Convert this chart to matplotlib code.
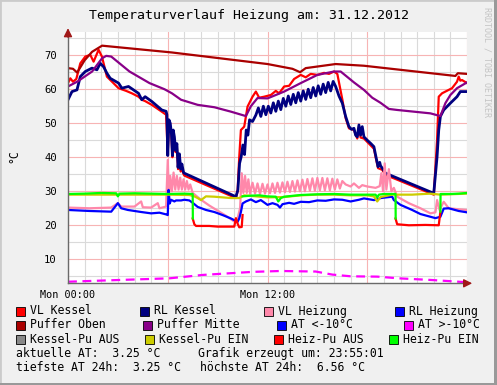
import numpy as np
import matplotlib
matplotlib.use("Agg")
import matplotlib.pyplot as plt
from matplotlib.patches import Rectangle

nan = np.nan
MONO = "DejaVu Sans Mono"

title = "Temperaturverlauf Heizung am: 31.12.2012"
x_tick_pos = [0, 6, 12, 18, 24]
x_tick_labels = ["Mon 00:00", "", "Mon 12:00", "", ""]
y_ticks = [10, 20, 30, 40, 50, 60, 70]

# ---- series (hours, values) ----
vl_kessel_h = [0, 0.14, 0.3, 0.5, 0.74, 1.04, 1.34, 1.54, 1.84, 2.04, 2.34, 3.04, 3.5, 3.84, 4.24, 4.44, 4.64, 5.04,
               5.64, 5.9, 6.0, 6.07, 6.15, 6.22, 6.28, 6.33, 6.4, 6.47, 6.55, 6.62, 6.7, 6.78, 6.85, 6.95, 7.0,
               10.1, 10.2, 10.3, 10.4, 10.6, 10.8, 11.1, 11.3, 11.5, 11.8, 12.2, 12.5, 12.7, 13.0, 13.3, 13.6, 14.0,
               14.3, 14.6, 15.0, 15.4, 15.7, 16.0, 16.2, 16.5, 16.7, 16.9, 17.2, 17.4, 17.5, 17.6, 17.8, 18.2, 18.4,
               18.55, 18.65, 18.9, 19.1, 22.0, 22.2, 22.3, 22.5, 22.7, 22.9, 23.1, 23.4, 23.5, 23.6, 23.7, 24]
vl_kessel_v = [61.8, 63.2, 62.2, 63, 67.6, 69.6, 70.1, 68.1, 71.6, 69.6, 63.7, 60.3, 59.5, 58.8, 57.8, 56.9, 56.5, 55.4,
               53.4, 52.5, 41, 50, 49, 46.5, 40, 47, 45, 41.5, 43, 36.5, 40, 35.8, 37, 35, 34.6,
               28.0, 30, 40, 48, 49, 54.9, 57.8, 59.3, 57.5, 57.8, 58.3, 59.5, 58.8, 60.8, 61, 63, 64.2,
               63.5, 64.5, 64.2, 64.8, 64.5, 65.2, 64.5, 57, 51.5, 48.5, 48, 45.5, 49, 45.8, 45.5, 43.5, 42.5,
               39, 36.8, 36.3, 34.8, 29.0, 45, 57.8, 58.8, 59.3, 59.8, 60.3, 62.2, 63.7, 62.5, 62.7, 61.8]

rl_kessel_h = [0, 0.24, 0.54, 0.74, 1.04, 1.44, 1.74, 1.94, 2.14, 2.34, 2.54, 3.04, 3.24, 3.64, 4.24, 4.44, 4.64, 5.04,
               5.64, 5.9, 5.95, 6.0, 6.07, 6.15, 6.22, 6.28, 6.33, 6.4, 6.47, 6.55, 6.62, 6.7, 6.78, 6.85, 6.95, 7.0,
               10.1, 10.22, 10.32, 10.42, 10.52, 10.62, 10.72, 10.82, 10.92, 11.1,
               11.3, 11.45, 11.6, 11.75, 11.9, 12.05, 12.2, 12.35, 12.5, 12.65, 12.8, 12.95, 13.1, 13.25, 13.4, 13.55,
               13.7, 13.85, 14.0, 14.15, 14.3, 14.45, 14.6, 14.75, 14.9, 15.05, 15.2, 15.35, 15.5, 15.65, 15.8, 15.95,
               16.1, 16.3, 16.5, 16.7, 16.9, 17.05, 17.2, 17.3, 17.4, 17.5, 17.6, 17.7, 17.8, 18.0, 18.2, 18.4, 18.55,
               18.65, 18.75, 18.8, 18.9, 19.1, 22.0, 22.2, 22.3, 22.4, 22.6, 23.0, 23.4, 23.6, 24]
rl_kessel_v = [56.9, 59.3, 59.8, 63.7, 65.2, 66.2, 65.7, 67.6, 66.6, 64.7, 63.2, 61.8, 60.3, 60.8, 58.8, 56.9, 57.8, 56.4,
               53.9, 53.5, 52.5, 40.5, 51, 50, 47, 40.5, 48, 46, 42, 44, 37, 41, 36.5, 38, 35.5, 35.3,
               28.4, 30.4, 38.2, 40.2, 43.6, 40.8, 48, 46.5, 51, 50.5,
               52.4, 54.5, 52.0, 55.0, 52.5, 55, 53, 56, 53.5, 56.5, 54, 57.3, 55, 58, 55.5, 58.5,
               56, 59, 56.5, 59.5, 57, 60, 57.5, 60.5, 58, 61, 58.5, 61.5, 59, 62, 59.5, 62.3,
               60.8, 58, 55.9, 52, 49, 48.2, 48.5, 46.5, 46, 49.5, 46.5, 49, 46, 45, 44.1, 43.1, 39.5,
               37.2, 38.5, 37.5, 36.8, 35.3, 29.4, 40.2, 48, 52, 53.9, 55.9, 57.8, 59.3, 59.3]

vl_heizung_h = [0, 1.3, 2.6, 3.0, 3.2, 4.0, 4.4, 4.5, 5.0, 5.4, 5.5, 5.9, 6.0, 6.07, 6.15, 6.25, 6.35, 6.45, 6.55,
                6.65, 6.75, 6.85, 6.95, 7.05, 7.15, 7.25, 7.35, 7.5, 8.0, 8.5, 9.0, 9.5, 10.0, 10.2, 10.35, 10.45,
                10.55, 10.65, 10.75, 10.85, 10.95, 11.1, 11.25, 11.4, 11.55, 11.7, 11.85, 12.0, 12.15, 12.3, 12.45,
                12.6, 12.75, 12.9, 13.05, 13.2, 13.35, 13.5, 13.65, 13.8, 13.95, 14.1, 14.25, 14.4, 14.55, 14.7,
                14.85, 15.0, 15.15, 15.3, 15.45, 15.6, 15.75, 15.9, 16.05, 16.2, 16.35, 16.5, 16.7, 17.0, 17.2,
                17.5, 17.7, 18.0, 18.5, 18.75, 18.85, 18.95, 19.05, 19.15, 19.3, 19.45, 19.6, 19.8, 20.5, 21.2,
                21.8, 22.1, 22.2, 22.35, 22.6, 22.9, 23.5, 24]
vl_heizung_v = [25.2, 25, 25.2, 26.5, 25.5, 25.5, 27, 25.3, 25.2, 26.5, 25, 25.5, 39.2, 28.4, 34.5, 30, 35.5, 30.5, 34.5,
                30.5, 34, 30.5, 33.5, 30.5, 33, 30.5, 32, 29.5, 27.5, 25.8, 24.3, 22.8, 21.1, 22, 25, 35.3,
                29.5, 34.5, 29.5, 33.5, 29.3, 32.5, 29.3, 32.3, 29.2, 32.2, 29.3, 32, 29.4, 32.3, 29.5,
                32.5, 29.6, 32.6, 29.7, 32.8, 29.8, 33, 29.9, 33.2, 30, 33.4, 30, 33.6, 30.2, 33.8,
                30.2, 33.9, 30.3, 33.9, 30.3, 33.8, 30.3, 33.7, 30.5, 33.5, 30.8, 33, 32, 31.4, 32.3,
                31, 31.8, 31.4, 31.0, 31.5, 35.3, 30, 38.2, 30.5, 36.5, 30, 31, 28.4, 26.5, 25,
                23.5, 23.8, 27.4, 24.5, 26.9, 25, 24.7, 24.5]

rl_heizung_h = [0, 1.3, 2.6, 3.0, 3.2, 3.6, 4.4, 5.0, 5.5, 5.9, 6.0, 6.05, 6.12, 6.2, 6.4, 6.5, 6.8, 7.0, 7.3, 7.5, 7.8,
                8.3, 8.8, 9.3, 9.8, 10.0, 10.2, 10.3, 10.4, 10.5, 10.7, 11.0, 11.3, 11.6, 12.0, 12.3, 12.6, 12.75,
                12.9, 13.3, 13.6, 14.0, 14.5, 15.0, 15.5, 16.0, 16.5, 17.0, 17.5, 17.8, 18.4, 18.6, 18.8, 19.5,
                19.6, 20.0, 20.7, 21.2, 21.8, 22.1, 22.4, 22.6, 22.9, 23.5, 24]
rl_heizung_v = [24.5, 24.2, 24.0, 26.5, 25.0, 24.5, 23.9, 23.5, 23.7, 23.2, 23.0, 30.4, 26.4, 27.5, 27, 27.3, 27.3, 27.5,
                27.3, 26.6, 25.4, 24.5, 23.9, 23.0, 22.0, 21.5, 21, 22, 23.9, 26.4, 27, 27.6, 26.8, 27.4, 26.0, 26.5,
                26.0, 25.2, 26.2, 26.6, 26.3, 26.9, 26.8, 27.3, 27.2, 27.6, 27.5, 27.0, 27.5, 27.9, 27.4, 27.6, 28.0,
                28.4, 27.4, 26.0, 24.5, 23.3, 22.5, 22.1, 22.5, 24.9, 25.0, 24.2, 23.8]

puffer_oben_h = [0, 0.3, 0.55, 1.0, 1.45, 2.05, 6.25, 12.0, 13.5, 13.96, 14.3, 16.1, 17.8, 23.3, 23.45, 24]
puffer_oben_v = [66.2, 66, 64.9, 68.5, 71, 72.8, 70.8, 67.4, 66.0, 65.0, 66.2, 67.4, 66.9, 63.9, 64.7, 64.5]

puffer_mitte_h = [0, 0.55, 1.45, 2.05, 2.3, 2.6, 3.7, 4.9, 5.8, 6.25, 6.8, 7.8, 8.8, 9.8, 10.7, 11.0, 11.4, 12.0,
                  13.0, 14.0, 15.0, 16.0, 16.4, 17.2, 17.8, 18.3, 18.8, 19.3, 19.8, 21.8, 22.4, 22.7, 23.0, 23.4, 24]
puffer_mitte_v = [60.8, 62.2, 65.2, 69.1, 69.8, 69.6, 65.2, 61.8, 60.0, 58.8, 56.9, 55.4, 54.7, 53.4, 52.1, 55, 57.4, 57.3,
                  59.3, 61.8, 64.2, 65.2, 65.2, 62, 59.8, 57.5, 56.0, 54.2, 53.9, 52.9, 52.1, 55.9, 58.3, 60.3, 62.0]

at_over_h = [0, 3, 6.1, 8.1, 11.1, 12.8, 13.5, 14.9, 15.9, 17.0, 18.6, 19.9, 21.9, 24]
at_over_v = [3.4, 3.9, 4.4, 5.4, 6.3, 6.56, 6.5, 6.4, 5.5, 5.0, 4.9, 4.4, 3.9, 3.25]

kpu_ein_h = [0, 6, 7.3, 7.6, 7.8, 8.0, 8.3, 8.8, 9.8, 10.3, 10.6, 12, 13, 14, 15, 16, 17, 18, 18.4, 18.6, 18.8, 19.5,
             20.7, 21.8, 22.4, 24]
kpu_ein_v = [29.0, 29.0, 28.9, 28.5, 28.0, 27.4, 28.5, 28.4, 28.0, 28.0, 28.8, 28.2, 28.3, 28.8, 29.0, 29.0, 28.8,
             28.8, 28.5, 27.0, 28.3, 29.0, 29.0, 29.3, 29.0, 29.3]

hpu_aus_h = [7.5, 7.6, 7.7, 8.5, 9.0, 10.0, 10.1, 10.2, 10.3, 10.45, 10.5, nan, 19.7, 19.8, 20.5, 21.5, 22.3, 22.4]
hpu_aus_v = [22.0, 20.3, 19.8, 19.8, 19.6, 19.6, 22.1, 20.5, 19.4, 19.5, 23.0, nan, 22.0, 20.3, 20.0, 20.1, 20.0, 24.0]

hpu_ein_h = [0, 1.0, 2.0, 2.9, 3.0, 3.1, 4, 5, 6, 7.0, 7.5, 7.51, nan, 10.5, 11.0, 11.5, 12.0, 12.5, 12.65, 12.8,
             13.0, 14.0, 15.0, 16.0, 17.0, 18.0, 18.5, 18.6, 18.7, 19.0, 19.7, 19.71, nan, 22.4, 22.41, 23, 23.5, 24]
hpu_ein_v = [29.2, 29.3, 29.5, 29.4, 28.5, 29.3, 29.4, 29.3, 29.2, 29.3, 29.2, 22.0, nan, 28.5, 28.7, 28.8, 28.5, 28.4,
             27.0, 28.0, 28.4, 28.9, 29.1, 29.2, 29.0, 29.0, 29.0, 28.2, 29.0, 29.2, 29.2, 22.0, nan, 24.0, 29.2, 29.2,
             29.3, 29.5]

legend_names = ["VL Kessel", "RL Kessel", "VL Heizung", "RL Heizung",
                "Puffer Oben", "Puffer Mitte", "AT <-10°C", "AT >-10°C",
                "Kessel-Pu AUS", "Kessel-Pu EIN", "Heiz-Pu AUS", "Heiz-Pu EIN"]
legend_colors = ["#FF0000", "#000080", "#FF88AA", "#0000FF",
                 "#AA0000", "#880088", "#0000FF", "#FF00FF",
                 "#888888", "#CCCC00", "#FF0000", "#00FF00"]
info_lines = [("aktuelle AT:  3.25 °C", "Grafik erzeugt um: 23:55:01"),
              ("tiefste AT 24h:  3.25 °C", "höchste AT 24h:  6.56 °C")]

# ---- figure ----
W, H = 497, 385
fig = plt.figure(figsize=(W / 100, H / 100), dpi=100)
fig.patch.set_facecolor("#F0F0F0")


def fx(px):
    return px / W


def fy(py):
    return 1 - py / H


# frame
fig.add_artist(Rectangle((0, 0), 1, 1, transform=fig.transFigure, fill=False,
                         edgecolor="#CBCBCB", linewidth=2))
fig.add_artist(Rectangle((fx(0), fy(385)), fx(497), 2 / H, transform=fig.transFigure,
                         facecolor="#999999", edgecolor="none"))
fig.add_artist(Rectangle((fx(494), fy(385)), 3 / W, 1, transform=fig.transFigure,
                         facecolor="#999999", edgecolor="none"))

ax = fig.add_axes([fx(68), fy(283.3), fx(467) - fx(68), fy(32.4) - fy(283.3)])
ax.set_facecolor("white")
ax.set_xlim(0, 24)
ax.set_ylim(2.94, 76.7)

ax.set_xticks(x_tick_pos)
ax.set_xticklabels(x_tick_labels, fontfamily=MONO, fontsize=7.3)
ax.set_xticks(np.arange(0, 25, 1), minor=True)
ax.set_yticks(y_ticks)
ax.set_yticklabels([str(v) for v in y_ticks], fontfamily=MONO, fontsize=7.6)
ax.set_yticks(np.arange(5, 80, 5), minor=True)
ax.tick_params(which="both", length=0)
ax.tick_params(axis="y", pad=8)
ax.tick_params(axis="x", pad=5)
ax.grid(which="minor", color="#DADADA", linewidth=0.8)
ax.grid(which="major", color="#F7B4B4", linewidth=0.8)
ax.set_axisbelow(True)
for s in ["top", "right"]:
    ax.spines[s].set_visible(False)
for s in ["left", "bottom"]:
    ax.spines[s].set_color("#6A6A6A")
    ax.spines[s].set_linewidth(1.0)

lw = 1.6
ax.plot(vl_kessel_h, vl_kessel_v, color=legend_colors[0], lw=lw)
ax.plot(rl_kessel_h, rl_kessel_v, color=legend_colors[1], lw=2.0)
ax.plot(vl_heizung_h, vl_heizung_v, color=legend_colors[2], lw=lw)
ax.plot(rl_heizung_h, rl_heizung_v, color=legend_colors[3], lw=lw)
ax.plot(puffer_oben_h, puffer_oben_v, color=legend_colors[4], lw=lw)
ax.plot(puffer_mitte_h, puffer_mitte_v, color=legend_colors[5], lw=lw)
ax.plot(at_over_h, at_over_v, color=legend_colors[7], lw=lw, dashes=(4, 2.5))
ax.plot(kpu_ein_h, kpu_ein_v, color=legend_colors[9], lw=lw)
ax.plot(hpu_aus_h, hpu_aus_v, color=legend_colors[10], lw=lw)
ax.plot(hpu_ein_h, hpu_ein_v, color=legend_colors[11], lw=lw)

# axis arrows
ax.annotate("", xy=(0, 1.028), xytext=(0, 0.97), xycoords="axes fraction",
            arrowprops=dict(arrowstyle="-|>,head_width=0.25,head_length=0.5", color="#A01818", lw=1),
            annotation_clip=False)
ax.annotate("", xy=(1.02, 0), xytext=(0.99, 0), xycoords="axes fraction",
            arrowprops=dict(arrowstyle="-|>,head_width=0.25,head_length=0.5", color="#A01818", lw=1),
            annotation_clip=False)

# texts
fig.text(fx(248.7), fy(15.5), title, fontfamily=MONO, fontsize=9.5, ha="center", va="center")
fig.text(fx(13.5), fy(156), "°C", fontfamily=MONO, fontsize=8.3, rotation=90, ha="center", va="center")
fig.text(fx(487), fy(7), "RRDTOOL / TOBI OETIKER", fontfamily=MONO, fontsize=6.0, rotation=270,
         ha="center", va="top", color="#C4C4C4")

sq_x = [[16, 140, 264, 395.3], [16, 142.7, 277.3, 404.3], [16, 145.3, 274, 389.3]]
row_y = [311, 325, 339.3]
k = 0
for r in range(3):
    for c in range(4):
        x0 = sq_x[r][c]
        y0 = row_y[r]
        fig.add_artist(Rectangle((fx(x0), fy(y0 + 4.5)), 9 / W, 9 / H, transform=fig.transFigure,
                                 facecolor=legend_colors[k], edgecolor="black", linewidth=0.6))
        fig.text(fx(x0 + 14), fy(y0), legend_names[k], fontfamily=MONO, fontsize=8.3,
                 ha="left", va="center")
        k += 1

info_y = [353.3, 367.3]
info_x2 = [198.3, 200]
for i, (a, b) in enumerate(info_lines):
    fig.text(fx(16), fy(info_y[i]), a, fontfamily=MONO, fontsize=8.3, ha="left", va="center")
    fig.text(fx(info_x2[i]), fy(info_y[i]), b, fontfamily=MONO, fontsize=8.3, ha="left", va="center")

fig.savefig("out.png", dpi=100, facecolor=fig.get_facecolor())
